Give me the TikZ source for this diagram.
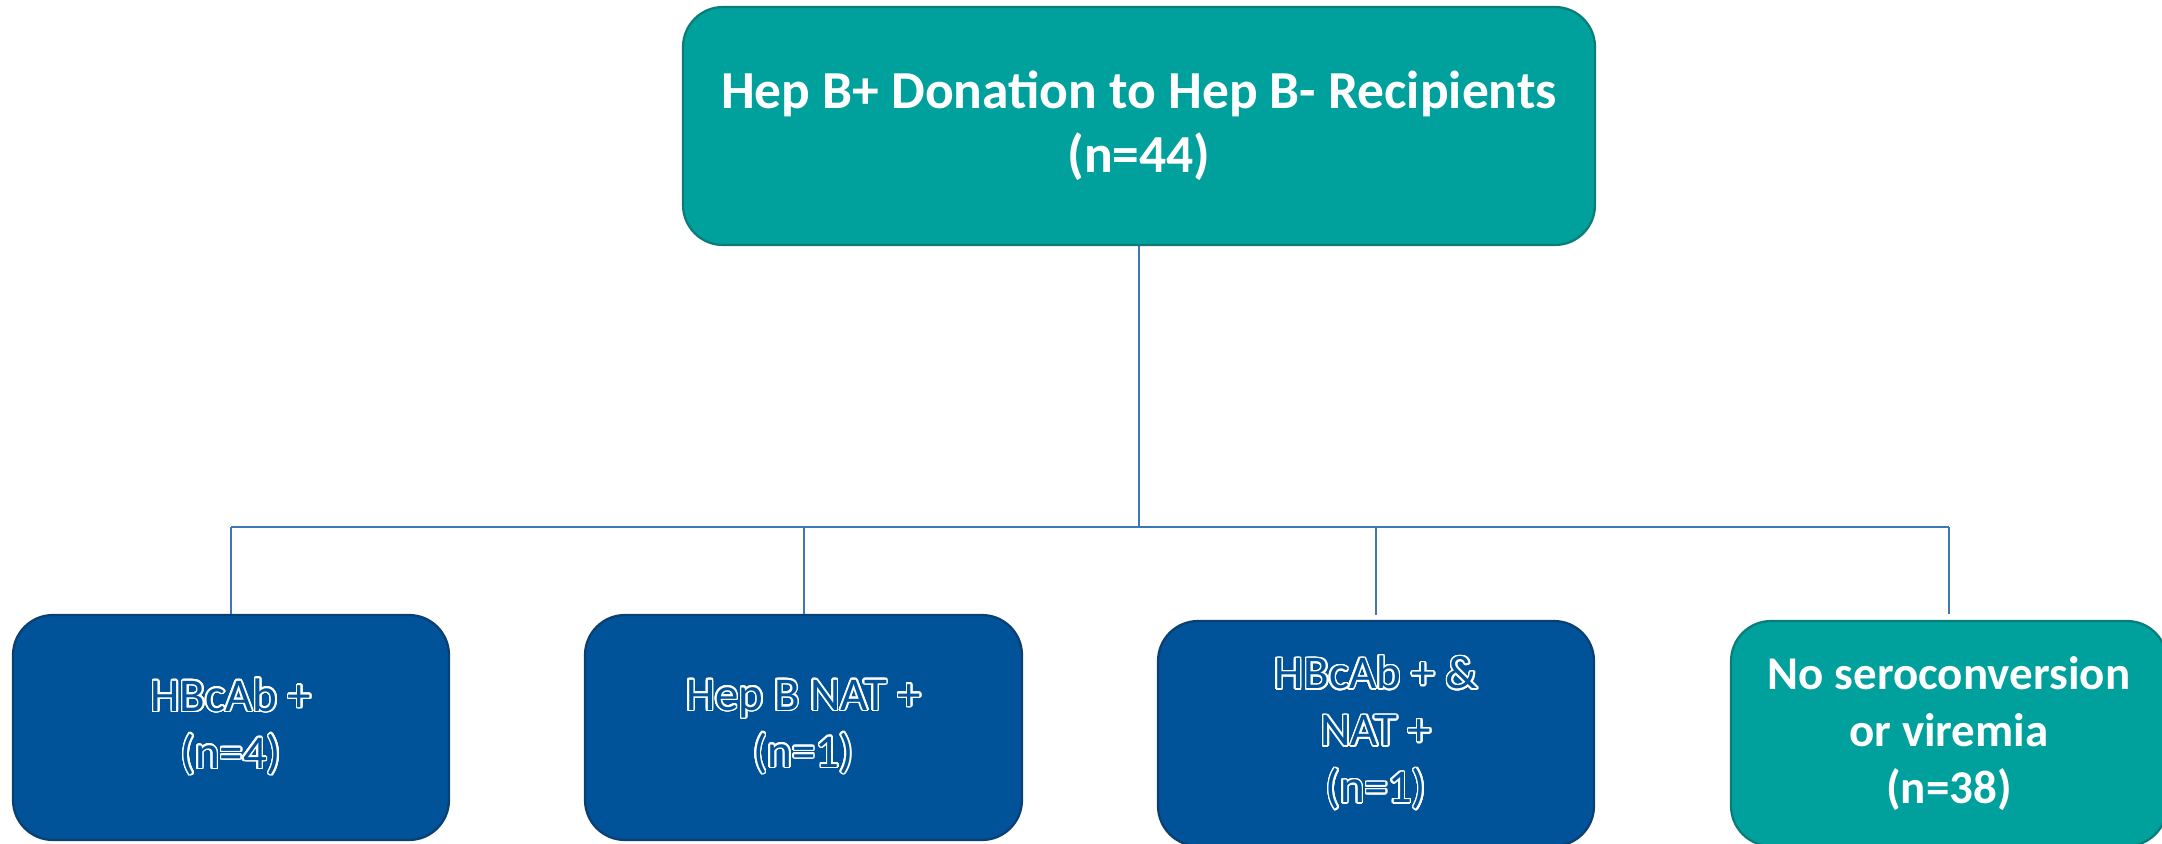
\documentclass[tikz,border=0pt]{standalone}
\usepackage{fontspec}
\setmainfont{Carlito}
\usepackage{contour}
\contourlength{1.6pt}
\contournumber{24}
\definecolor{tealfill}{HTML}{00A09D}
\definecolor{tealdraw}{HTML}{0A7C79}
\definecolor{bluefill}{HTML}{005299}
\definecolor{bluedraw}{HTML}{0B3F72}
\definecolor{connc}{HTML}{3D78B6}
\tikzset{
  box/.style={rounded corners=40pt, line width=2.2pt, align=center, inner sep=0pt},
  tealbox/.style={box, fill=tealfill, draw=tealdraw, text=white, font=\bfseries\fontsize{47}{57}\selectfont},
  bluebox/.style={box, fill=bluefill, draw=bluedraw, text=bluefill, font=\fontsize{47}{57}\selectfont},
  conn/.style={draw=connc, line width=2pt}
}
\newcommand{\ol}[1]{\contour{white}{#1}}
\begin{document}
\begin{tikzpicture}[x=1pt,y=-1pt]
\useasboundingbox (0,0) rectangle (2162,843);
\clip (0,0) rectangle (2162,843);
\node[tealbox, minimum width=912pt, minimum height=238pt, font=\bfseries\fontsize{53.5}{64}\selectfont] (top) at (1139,126)
  {Hep B+ Donation to Hep B- Recipients\\(n=44)};
\node[bluebox, minimum width=436pt, minimum height=225pt] (b1) at (231,727.5)
  {\ol{HBcAb +}\\\ol{(n=4)}};
\node[bluebox, minimum width=437pt, minimum height=225pt] (b2) at (803.5,727.5)
  {\ol{Hep B NAT +}\\\ol{(n=1)}};
\node[bluebox, minimum width=436pt, minimum height=225pt] (b3) at (1376,733.5)
  {\ol{HBcAb + \&}\\\ol{NAT +}\\\ol{(n=1)}};
\node[tealbox, minimum width=436pt, minimum height=225pt] (b4) at (1949,733.5)
  {No seroconversion\\or viremia\\(n=38)};
\coordinate (busL) at (231,527);
\coordinate (busR) at (1949,527);
\draw[conn] (top.south) -- (top.south |- busL);
\draw[conn] (busL) -- (busR);
\draw[conn] (busL) -- (b1.north);
\draw[conn] (b2.north |- busL) -- (b2.north);
\draw[conn] (b3.north |- busL) -- ([yshift=5pt]b3.north);
\draw[conn] (busR) -- ([yshift=6pt]b4.north);
\end{tikzpicture}
\end{document}
